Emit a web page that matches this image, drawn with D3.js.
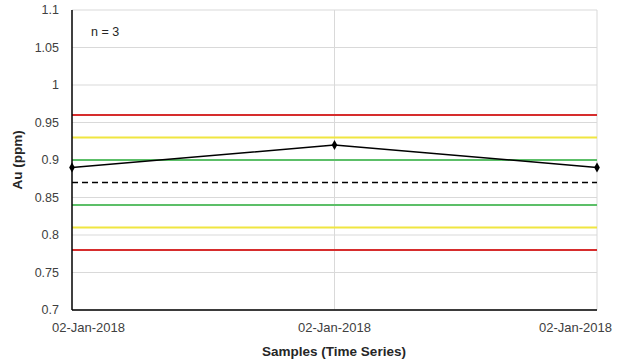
<!DOCTYPE html>
<html><head><meta charset="utf-8">
<script src="https://cdn.jsdelivr.net/npm/d3@7"></script>
<style>body{margin:0;background:#fff;font-family:"Liberation Sans",Arial,sans-serif;}</style>
</head><body>
<svg id="c" width="623" height="364"></svg>
<script>
const categories = ["02-Jan-2018", "02-Jan-2018", "02-Jan-2018"];
const values = [0.89, 0.92, 0.89];
const meanValue = 0.87;
const limitLines = [
  {name: "+3SD", value: 0.96, color: "#d62d2d"},
  {name: "+2SD", value: 0.93, color: "#f0e640"},
  {name: "+1SD", value: 0.90, color: "#5cbf68"},
  {name: "-1SD", value: 0.84, color: "#5cbf68"},
  {name: "-2SD", value: 0.81, color: "#f0e640"},
  {name: "-3SD", value: 0.78, color: "#d62d2d"}
];
const yTicks = [0.7, 0.75, 0.8, 0.85, 0.9, 0.95, 1, 1.05, 1.1];
const nLabel = "n = 3";

const svg = d3.select("#c");
const L = 72, R = 597, T = 10, B = 310;
const x = d3.scaleLinear().domain([0, categories.length - 1]).range([L, R]);
const y = d3.scaleLinear().domain([0.7, 1.1]).range([B, T]);

svg.append("g").selectAll("line").data(yTicks).join("line")
  .attr("x1", L).attr("x2", R).attr("y1", d => y(d)).attr("y2", d => y(d))
  .attr("stroke", "#d9d9d9").attr("stroke-width", 1);
svg.append("g").selectAll("line").data(categories.map((c, i) => i).slice(1)).join("line")
  .attr("x1", d => x(d)).attr("x2", d => x(d)).attr("y1", T).attr("y2", B)
  .attr("stroke", "#d9d9d9").attr("stroke-width", 1);

svg.append("g").selectAll("line").data(limitLines).join("line")
  .attr("x1", L).attr("x2", R).attr("y1", d => y(d.value)).attr("y2", d => y(d.value))
  .attr("stroke", d => d.color).attr("stroke-width", 1.8);
svg.append("line").attr("x1", L).attr("x2", R).attr("y1", y(meanValue)).attr("y2", y(meanValue))
  .attr("stroke", "#000").attr("stroke-width", 1.6).attr("stroke-dasharray", "6,4");

svg.append("line").attr("x1", L).attr("x2", L).attr("y1", T).attr("y2", B).attr("stroke", "#000").attr("stroke-width", 1.5);
svg.append("line").attr("x1", L).attr("x2", R).attr("y1", B).attr("y2", B).attr("stroke", "#000").attr("stroke-width", 1.5);

svg.append("path").datum(values)
  .attr("d", d3.line().x((d, i) => x(i)).y(d => y(d)))
  .attr("fill", "none").attr("stroke", "#000").attr("stroke-width", 1.5);
svg.append("g").selectAll("path").data(values).join("path")
  .attr("d", d3.symbol(d3.symbolDiamond, 28))
  .attr("transform", (d, i) => `translate(${x(i)},${y(d)})`)
  .attr("fill", "#000");

svg.append("g").selectAll("text").data(yTicks).join("text")
  .attr("x", L - 13).attr("y", d => y(d)).attr("dy", "0.35em")
  .attr("text-anchor", "end").attr("font-size", 12.5).attr("fill", "#404040")
  .text(d => d3.format("")(+d.toFixed(2)));

const xl = svg.append("g").selectAll("text").data(categories).join("text")
  .attr("y", 332)
  .attr("text-anchor", "middle").attr("font-size", 13).attr("fill", "#404040")
  .text(d => d);
xl.each(function(d, i) {
  const w = this.getComputedTextLength();
  const cx = Math.max(52 + w / 2, Math.min(612 - w / 2, x(i)));
  d3.select(this).attr("x", cx);
});

svg.append("text").attr("x", 334).attr("y", 356).attr("text-anchor", "middle")
  .attr("font-size", 13.5).attr("font-weight", "bold").attr("fill", "#262626").text("Samples (Time Series)");
svg.append("text").attr("transform", "translate(22,160) rotate(-90)").attr("text-anchor", "middle")
  .attr("font-size", 13.5).attr("font-weight", "bold").attr("fill", "#262626").text("Au (ppm)");

svg.append("text").attr("x", 91).attr("y", 36).attr("font-size", 12.5).attr("fill", "#262626").text(nLabel);
</script>
</body></html>
